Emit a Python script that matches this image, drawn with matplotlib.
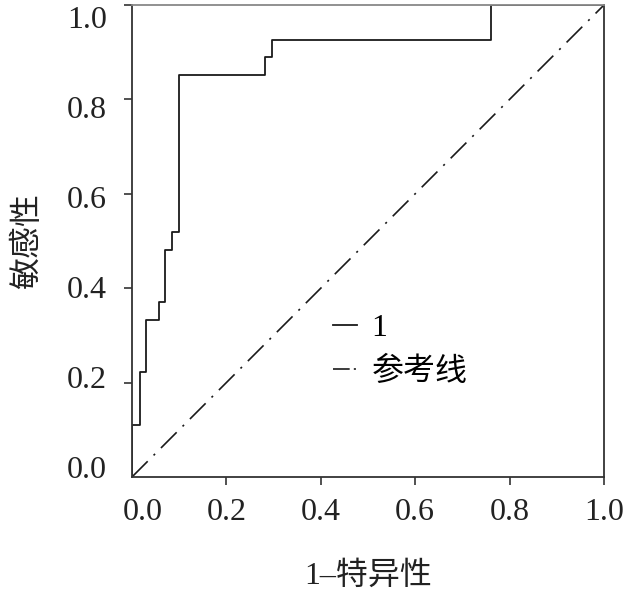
import matplotlib
matplotlib.use('Agg')
import matplotlib.pyplot as plt
from matplotlib.lines import Line2D
from matplotlib.transforms import ScaledTranslation

plt.rcParams['font.family'] = ['Liberation Serif', 'Noto Sans CJK SC']
plt.rcParams['lines.scale_dashes'] = False

# ROC curve vertices (steps-post)
fpr = [0, 0, 0.017, 0.030, 0.058, 0.071, 0.085, 0.100, 0.282, 0.297, 0.761, 1.0]
tpr = [0, 0.111, 0.222, 0.333, 0.370, 0.481, 0.519, 0.852, 0.889, 0.926, 1.0, 1.0]
ref = [0, 1]
ticks = [0.0, 0.2, 0.4, 0.6, 0.8, 1.0]
tick_labels = ['0.0', '0.2', '0.4', '0.6', '0.8', '1.0']

fig = plt.figure(figsize=(6.36, 5.92), dpi=100)
ax = fig.add_axes([0.2075, 0.1943, 0.7422, 0.7973])

roc_line, = ax.plot(fpr, tpr, drawstyle='steps-post', color='#1a1a1a', lw=1.3)
ax.plot(ref, ref, color='#1a1a1a', lw=1.2, linestyle=(0, (16, 6, 1.5, 6)))

ax.set_xlim(0, 1)
ax.set_ylim(0, 1)
ax.set_xticks(ticks)
ax.set_xticklabels(tick_labels)
ax.set_yticks(ticks)
ax.set_yticklabels(tick_labels)
ax.tick_params(direction='out', length=6, width=1.1, labelsize=23, colors='#222222')
ax.tick_params(axis='x', pad=9)
ax.tick_params(axis='y', pad=12)
ax.xaxis.get_major_ticks()[0].tick1line.set_visible(False)
ax.yaxis.get_major_ticks()[0].tick1line.set_visible(False)

# the y labels sit a little closer together than the ticks, and the
# x 0.0 label is nudged right so it doesn't clash with the y 0.0
for v, lab in zip(ticks, ax.get_yticklabels()):
    dy = (10 - 22 * v) / 100
    lab.set_transform(lab.get_transform() + ScaledTranslation(0, dy, fig.dpi_scale_trans))
xl0 = ax.get_xticklabels()[0]
xl0.set_transform(xl0.get_transform() + ScaledTranslation(0.11, 0, fig.dpi_scale_trans))

for s in ['left', 'bottom', 'right']:
    ax.spines[s].set_color('#333333')
    ax.spines[s].set_linewidth(1.3)
ax.spines['top'].set_color('#888888')
ax.spines['top'].set_linewidth(1.3)

ax.set_xlabel('1–特异性', fontsize=23, labelpad=25, color='#222222')
ax.set_ylabel('敏感性', fontsize=23, labelpad=17, color='#222222')

# legend handle for the reference line uses a shorter dash so the dot shows
ref_handle = Line2D([], [], color='#1a1a1a', lw=1.2, linestyle=(0, (12, 3, 1.5, 6)))
ax.legend([roc_line, ref_handle], ['1', '参考线'],
          loc='center left', bbox_to_anchor=(0.426, 0.268), frameon=False,
          fontsize=23, handlelength=0.75, handletextpad=0.45, labelspacing=0.45,
          borderpad=0, borderaxespad=0)

fig.savefig('out.png', dpi=100)
